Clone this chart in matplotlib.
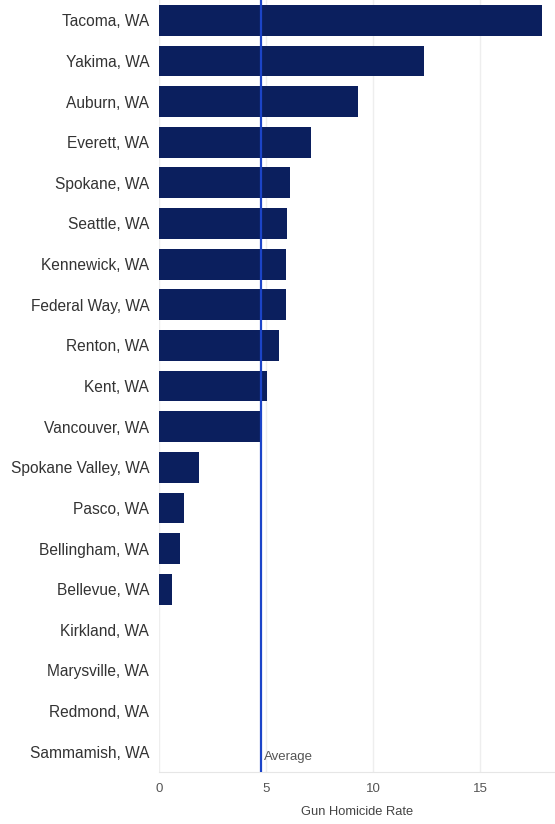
import matplotlib.pyplot as plt

# city gun homicide rates (top to bottom)
cities = ['Tacoma, WA', 'Yakima, WA', 'Auburn, WA', 'Everett, WA', 'Spokane, WA',
          'Seattle, WA', 'Kennewick, WA', 'Federal Way, WA', 'Renton, WA', 'Kent, WA',
          'Vancouver, WA', 'Spokane Valley, WA', 'Pasco, WA', 'Bellingham, WA',
          'Bellevue, WA', 'Kirkland, WA', 'Marysville, WA', 'Redmond, WA', 'Sammamish, WA']
rates = [17.9, 12.4, 9.3, 7.1, 6.1, 6.0, 5.95, 5.95, 5.6, 5.05,
         4.75, 1.85, 1.15, 1.0, 0.6, 0, 0, 0, 0]
average = 4.75
xticks = [0, 5, 10, 15]

fig = plt.figure(figsize=(5.55, 8.24), dpi=100)
ax = fig.add_axes([0.2865, 0.063, 0.7135, 0.937])

ypos = list(range(len(cities)))
ax.barh(ypos, rates, height=0.76, color='#0b1f5e', linewidth=0, zorder=2)
ax.axvline(average, color='#1c44c8', lw=1.6, zorder=3)
ax.text(average + 0.15, len(cities) - 0.72, 'Average', fontsize=9.5, color='#555555',
        va='bottom', ha='left', family='Liberation Sans')

ax.set_ylim(len(cities) - 0.5, -0.5)
ax.set_xlim(0, 18.5)
ax.set_yticks(ypos)
ax.set_yticklabels(cities, fontsize=11.2, color='#333333', family='Liberation Sans')
ax.set_xticks(xticks)
ax.set_xticklabels([str(t) for t in xticks], fontsize=9.5, color='#555555', family='Liberation Sans')
ax.tick_params(axis='y', length=0, pad=7)
ax.tick_params(axis='x', length=0, pad=8)
ax.set_xlabel('Gun Homicide Rate', fontsize=9.3, color='#444444', family='Liberation Sans', labelpad=8)

ax.grid(axis='x', color='#eeeeee', lw=1, zorder=0)
for s in ['top', 'right', 'left']:
    ax.spines[s].set_visible(False)
ax.spines['bottom'].set_color('#e6e6e6')

fig.savefig('out.png', dpi=100)
